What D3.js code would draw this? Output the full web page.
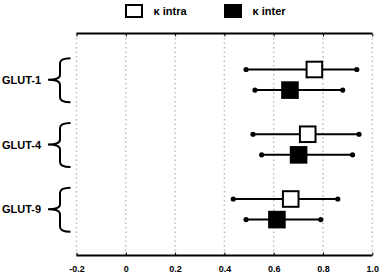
<!DOCTYPE html>
<html><head><meta charset="utf-8">
<script src="https://cdn.jsdelivr.net/npm/d3@7"></script>
<style>body{margin:0;background:#fff}svg{display:block}text{font-family:"Liberation Sans",Arial,sans-serif;font-weight:bold}</style>
</head><body><svg id="c" width="380" height="274"></svg>
<script>
const groups = ["GLUT-1","GLUT-4","GLUT-9"];
const series = ["κ intra","κ inter"];
const intraMean = [0.765,0.738,0.669];
const intraLow  = [0.488,0.516,0.436];
const intraHigh = [0.937,0.946,0.860];
const interMean = [0.666,0.701,0.613];
const interLow  = [0.524,0.551,0.488];
const interHigh = [0.880,0.920,0.791];
const xTicks = [-0.2,0,0.2,0.4,0.6,0.8,1.0];
const xTickLabels = ["-0.2","0","0.2","0.4","0.6","0.8","1.0"];

const svg = d3.select("#c");
const x = d3.scaleLinear().domain([-0.2,1.0]).range([76.5,372.3]);
const yTop = 33.5, yBot = 255.5;
const y = d3.scalePoint().domain(groups).range([79.8,209.3]);
const off = d3.scalePoint().domain(series).range([-10.3,10.3]);

// gridlines
svg.append("g").selectAll("line").data(xTicks).join("line")
  .attr("x1",d=>x(d)).attr("x2",d=>x(d)).attr("y1",yTop).attr("y2",yBot)
  .attr("stroke","#bdbdbd").attr("stroke-width",1.5).attr("stroke-dasharray","1.5,3");

// axes
const axBottom = svg.append("g").attr("transform",`translate(0,${yBot})`)
  .call(d3.axisBottom(x).tickValues(xTicks).tickSize(-3).tickFormat((d,i)=>xTickLabels[i]).tickPadding(10.5));
const axTop = svg.append("g").attr("transform",`translate(0,${yTop})`)
  .call(d3.axisTop(x).tickValues(xTicks).tickSize(-3).tickFormat(""));
[axBottom,axTop].forEach(g=>{
  g.select(".domain").attr("stroke","#000").attr("stroke-width",2).attr("d",`M${x(-0.2)},0H${x(1.0)}`);
  g.selectAll(".tick line").attr("stroke","#000").attr("stroke-width",1);
});
axBottom.selectAll(".tick text").attr("font-size",9).attr("font-family","Liberation Sans, Arial, sans-serif").attr("font-weight","bold").attr("fill","#000");

// braces and labels
groups.forEach((g,i)=>{
  const m = y(g), t = m-21.5, b = m+22.5, bx = 60, ex = 70.5, lx = 48;
  svg.append("path")
    .attr("d",`M${ex},${t} Q${bx},${t} ${bx},${t+5} L${bx},${m-5} Q${bx},${m} ${lx},${m} Q${bx},${m} ${bx},${m+5} L${bx},${b-5} Q${bx},${b} ${ex},${b}`)
    .attr("fill","none").attr("stroke","#000").attr("stroke-width",2);
  svg.append("text").attr("x",2).attr("y",m+4).attr("font-size",11).attr("fill","#000").text(g);
});

// data rows
const data = [];
groups.forEach((g,i)=>{
  data.push({g,s:series[0],mean:intraMean[i],lo:intraLow[i],hi:intraHigh[i]});
  data.push({g,s:series[1],mean:interMean[i],lo:interLow[i],hi:interHigh[i]});
});
const rows = svg.append("g").selectAll("g").data(data).join("g")
  .attr("transform",d=>`translate(0,${y(d.g)+off(d.s)})`);
rows.append("line").attr("x1",d=>x(d.lo)).attr("x2",d=>x(d.hi)).attr("stroke","#000").attr("stroke-width",2);
rows.append("circle").attr("cx",d=>x(d.lo)).attr("r",2.6).attr("fill","#000");
rows.append("circle").attr("cx",d=>x(d.hi)).attr("r",2.6).attr("fill","#000");
rows.append("rect").attr("x",d=>x(d.mean)-7.8).attr("y",-7.8).attr("width",15.6).attr("height",15.6)
  .attr("fill",d=>d.s===series[0]?"#fff":"#000").attr("stroke","#000").attr("stroke-width",2);

// legend
const leg = svg.append("g");
const legX = [126,225];
series.forEach((s,i)=>{
  leg.append("rect").attr("x",legX[i]).attr("y",5).attr("width",16).attr("height",12)
    .attr("fill",i===0?"#fff":"#000").attr("stroke","#000").attr("stroke-width",2);
  leg.append("text").attr("x",legX[i]+27.5).attr("y",14.5).attr("font-size",11).attr("fill","#000").text(s);
});
</script></body></html>
